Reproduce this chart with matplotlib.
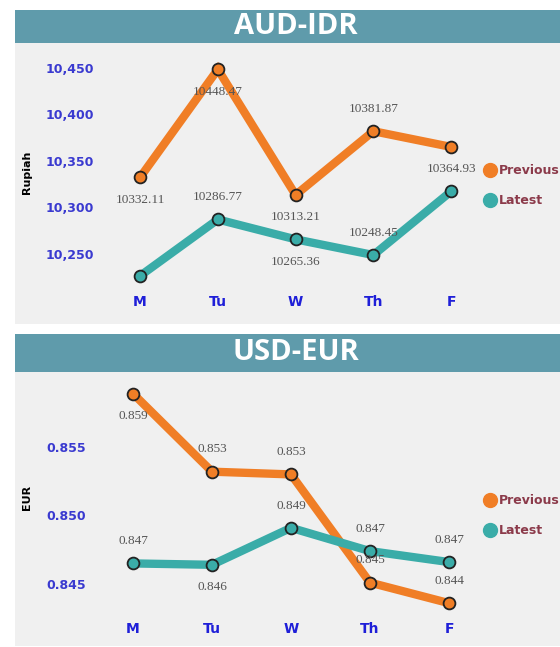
import matplotlib
matplotlib.use("Agg")
import matplotlib.pyplot as plt
from matplotlib.patches import Rectangle
from matplotlib.lines import Line2D

days = ["M", "Tu", "W", "Th", "F"]

aud_prev = [10332.11, 10448.47, 10313.21, 10381.87, 10364.93]
aud_last = [10226.0, 10286.77, 10265.36, 10248.45, 10317.0]
aud_prev_lbl = [-1, -1, -1, 1, -1]       # 1 = label above, -1 = below, 0 = none
aud_last_lbl = [0, 1, -1, 1, 0]

eur_prev = [0.8589, 0.8532, 0.8530, 0.8451, 0.8436]
eur_last = [0.8465, 0.8464, 0.8491, 0.8474, 0.8466]
eur_prev_lbl = [-1, 1, 1, 1, 1]
eur_last_lbl = [1, -1, 1, 1, 1]

ORANGE = "#f07e26"
TEAL = "#3aaca8"
BAR = "#5f9bab"
BG = "#f0f0f0"

W, H = 560, 647
fig = plt.figure(figsize=(W / 100, H / 100), dpi=100)
fig.patch.set_facecolor("white")


def box(x0, y0, x1, y1):
    # pixel box (top-left origin) -> figure fraction
    return [x0 / W, 1 - y1 / H, (x1 - x0) / W, (y1 - y0) / H]


def rect(x0, y0, x1, y1, color):
    b = box(x0, y0, x1, y1)
    fig.patches.append(Rectangle((b[0], b[1]), b[2], b[3], transform=fig.transFigure,
                                 facecolor=color, edgecolor="none", zorder=-5))


def panel(ax_box, top, bottom, bar, title, ylab, ylab_y, prev, last, plbl, llbl,
          ylim, yticks, yfmt, lblfmt, leg_y):
    rect(15, bar[0], 560, bar[1], BAR)
    rect(15, top, 560, bottom, BG)
    fig.text(296 / W, 1 - (bar[0] + bar[1]) / 2 / H, title, color="white", fontsize=21,
             fontweight="bold", family="Open Sans", ha="center", va="center")
    fig.text(27 / W, 1 - ylab_y / H, ylab, rotation=90, fontsize=8, fontweight="bold",
             ha="center", va="center")

    ax = fig.add_axes(box(*ax_box))
    ax.set_facecolor("none")
    ax.set_zorder(2)
    x = list(range(len(days)))
    ax.plot(x, prev, color=ORANGE, lw=6, marker="o", ms=8.5, mfc=ORANGE, mec="#222222",
            mew=1.3, solid_joinstyle="miter", zorder=3)
    ax.plot(x, last, color=TEAL, lw=6, marker="o", ms=8.5, mfc=TEAL, mec="#222222",
            mew=1.3, solid_joinstyle="miter", zorder=3)
    for vals, pos in ((prev, plbl), (last, llbl)):
        for i, (v, p) in enumerate(zip(vals, pos)):
            if p == 0:
                continue
            ax.annotate(lblfmt.format(v), (i, v), xytext=(0, 16 * p), textcoords="offset points",
                        ha="center", va="center", fontsize=9.5, family="Liberation Serif",
                        color="#555555", zorder=5)
    ax.set_xlim(-0.4, 4.4)
    ax.set_ylim(*ylim)
    ax.set_xticks(x)
    ax.set_xticklabels(days)
    ax.set_yticks(yticks)
    ax.set_yticklabels([yfmt.format(t) for t in yticks])
    for s in ax.spines.values():
        s.set_visible(False)
    ax.tick_params(axis="x", length=0, pad=6, labelsize=10, labelcolor="#1f1fd8")
    ax.tick_params(axis="y", length=0, pad=11, labelsize=9, labelcolor="#3a3ad0")
    for t in ax.get_xticklabels() + ax.get_yticklabels():
        t.set_fontweight("bold")

    # legend
    for (name, c), ly in zip((("Previous", ORANGE), ("Latest", TEAL)), leg_y):
        fig.add_artist(Line2D([490 / W], [1 - ly / H], marker="o", ms=10, color=c,
                              transform=fig.transFigure))
        fig.text(499 / W, 1 - ly / H, name, color="#8b3a4a", fontsize=9, fontweight="bold",
                 ha="left", va="center")
    return ax


panel((109, 49.4, 482.2, 287), 43, 324, (10, 43), "AUD-IDR", "Rupiah", 172,
      aud_prev, aud_last, aud_prev_lbl, aud_last_lbl,
      (10214, 10470), [10250, 10300, 10350, 10400, 10450], "{:,.0f}", "{:.2f}", (170, 200))

panel((101.4, 385.4, 480.6, 614.1), 372, 646, (334, 372), "USD-EUR", "EUR", 497,
      eur_prev, eur_last, eur_prev_lbl, eur_last_lbl,
      (0.8428, 0.8595), [0.845, 0.850, 0.855], "{:.3f}", "{:.3f}", (500, 530))

fig.savefig("out.png", dpi=100)
